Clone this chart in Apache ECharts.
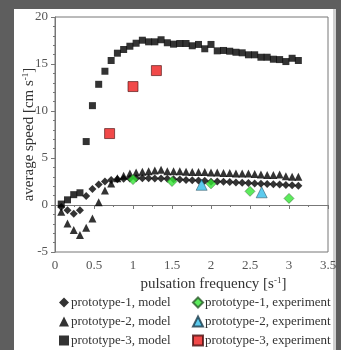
<!DOCTYPE html>
<html><head><meta charset="utf-8">
<script src="https://cdn.jsdelivr.net/npm/echarts@6/dist/echarts.min.js"></script>
<style>html,body{margin:0;padding:0;background:#5e5e5e;}#c{width:341px;height:350px;}</style>
</head><body><div id="c"></div>
<script>
const freq = [0.08,0.16,0.24,0.32,0.40,0.48,0.56,0.64,0.72,0.80,0.88,0.96,1.04,1.12,1.20,1.28,1.36,1.44,1.52,1.60,1.68,1.76,1.84,1.92,2.00,2.08,2.16,2.24,2.32,2.40,2.48,2.56,2.64,2.72,2.80,2.88,2.96,3.04,3.12];
const proto1Model = [-0.2,-0.57,-0.93,-0.57,0.97,1.71,2.17,2.5,2.65,2.75,2.8,2.83,2.85,2.85,2.85,2.83,2.82,2.78,2.74,2.7,2.67,2.63,2.6,2.57,2.48,2.5,2.47,2.44,2.4,2.37,2.33,2.3,2.27,2.23,2.2,2.17,2.13,2.1,2.06];
const proto2Model = [-0.72,-1.98,-2.67,-3.2,-2.42,-1.44,0.3,1.55,2.3,2.85,3.1,3.34,3.45,3.55,3.6,3.67,3.74,3.6,3.6,3.6,3.55,3.5,3.5,3.5,3.45,3.45,3.4,3.4,3.35,3.35,3.35,3.3,3.25,3.2,3.2,3.25,3.05,3.0,3.0];
const proto3Model = [0.1,0.55,1.1,1.3,6.75,10.57,12.84,14.23,15.37,16.15,16.54,16.89,17.21,17.53,17.36,17.36,17.58,17.26,17.11,17.18,17.18,16.94,17.08,16.62,17.08,16.40,16.44,16.36,16.25,16.19,15.98,15.98,15.72,15.72,15.51,15.47,15.26,15.61,15.37];
const p1ExpX = [1.0,1.5,2.0,2.5,3.0];
const p1ExpY = [2.7,2.5,2.25,1.45,0.7];
const p2ExpX = [1.88,2.65];
const p2ExpY = [2.15,1.35];
const p3ExpX = [0.7,1.0,1.3];
const p3ExpY = [7.6,12.6,14.3];
const names = ['prototype-1, model','prototype-2, model','prototype-3, model','prototype-1, experiment','prototype-2, experiment','prototype-3, experiment'];

const zip = (xs, ys) => xs.map((x, i) => [x, ys[i]]);
const font = 'Liberation Serif';
const chart = echarts.init(document.getElementById('c'), null, {renderer: 'canvas'});
const legendBase = {orient: 'vertical', top: 296, padding: 0, itemWidth: 10, itemHeight: 10, itemGap: 6,
  height: 60, textStyle: {fontFamily: font, fontSize: 13, color: '#333', padding: [0, 0, 0, -3]}};
chart.setOption({
  backgroundColor: '#5e5e5e',
  animation: false,
  graphic: [
    {type: 'rect', z: -10, shape: {x: 14, y: 9, width: 322, height: 345}, style: {fill: '#d0d0d0'}},
    {type: 'rect', z: -9, shape: {x: 14, y: 9, width: 319, height: 345}, style: {fill: '#ffffff'}}
  ],
  grid: {left: 55, right: 13, top: 17, bottom: 98, show: true, borderColor: '#777', borderWidth: 1, backgroundColor: 'transparent'},
  legend: [
    Object.assign({}, legendBase, {data: names.slice(0, 3), left: 59}),
    Object.assign({}, legendBase, {data: names.slice(3), left: 192})
  ],
  xAxis: {
    type: 'value', min: 0, max: 3.5, interval: 0.5,
    name: 'pulsation frequency [s{sup|-1}]', nameLocation: 'middle', nameGap: 24, nameMoveOverlap: false,
    nameTextStyle: {fontFamily: font, fontSize: 15, color: '#333', padding: [0, 0, 0, 44],
      rich: {sup: {fontFamily: font, fontSize: 9, color: '#333', padding: [0, 0, 7, 0]}}},
    axisLine: {show: true, lineStyle: {color: '#777'}},
    axisTick: {show: true, inside: false, length: 4, lineStyle: {color: '#777'}},
    minorTick: {show: true, splitNumber: 2, length: 2, lineStyle: {color: '#777'}},
    splitLine: {show: false},
    axisLabel: {fontFamily: font, fontSize: 13, color: '#555', margin: 7}
  },
  yAxis: {
    type: 'value', min: -5, max: 20, interval: 5,
    name: 'average speed [cm s{sup|-1}]', nameLocation: 'middle', nameGap: 18, nameRotate: 90, nameMoveOverlap: false,
    nameTextStyle: {fontFamily: font, fontSize: 15, color: '#333',
      rich: {sup: {fontFamily: font, fontSize: 9, color: '#333', padding: [0, 0, 7, 0]}}},
    axisLine: {show: true, lineStyle: {color: '#777'}},
    axisTick: {show: true, inside: false, length: 4, lineStyle: {color: '#777'}},
    minorTick: {show: true, splitNumber: 5, length: 2, lineStyle: {color: '#777'}},
    splitLine: {show: false},
    axisLabel: {fontFamily: font, fontSize: 13, color: '#555', margin: 7}
  },
  series: [
    {name: names[2], type: 'scatter', symbol: 'rect', symbolSize: 7, data: zip(freq, proto3Model), itemStyle: {color: '#000'}},
    {name: names[1], type: 'scatter', symbol: 'triangle', symbolSize: 8, data: zip(freq, proto2Model), itemStyle: {color: '#000'}},
    {name: names[0], type: 'scatter', symbol: 'diamond', symbolSize: 8, data: zip(freq, proto1Model), itemStyle: {color: '#000'}},
    {name: names[3], type: 'scatter', symbol: 'diamond', symbolSize: 10, data: zip(p1ExpX, p1ExpY), itemStyle: {color: '#33e633', borderColor: '#2a5a2a', borderWidth: 0.6}},
    {name: names[4], type: 'scatter', symbol: 'triangle', symbolSize: 11, data: zip(p2ExpX, p2ExpY), itemStyle: {color: '#33bde8', borderColor: '#1a3a4a', borderWidth: 0.6}},
    {name: names[5], type: 'scatter', symbol: 'rect', symbolSize: 10, data: zip(p3ExpX, p3ExpY), itemStyle: {color: '#ee1c1c', borderColor: '#4a1010', borderWidth: 0.8}}
  ]
});
</script></body></html>
